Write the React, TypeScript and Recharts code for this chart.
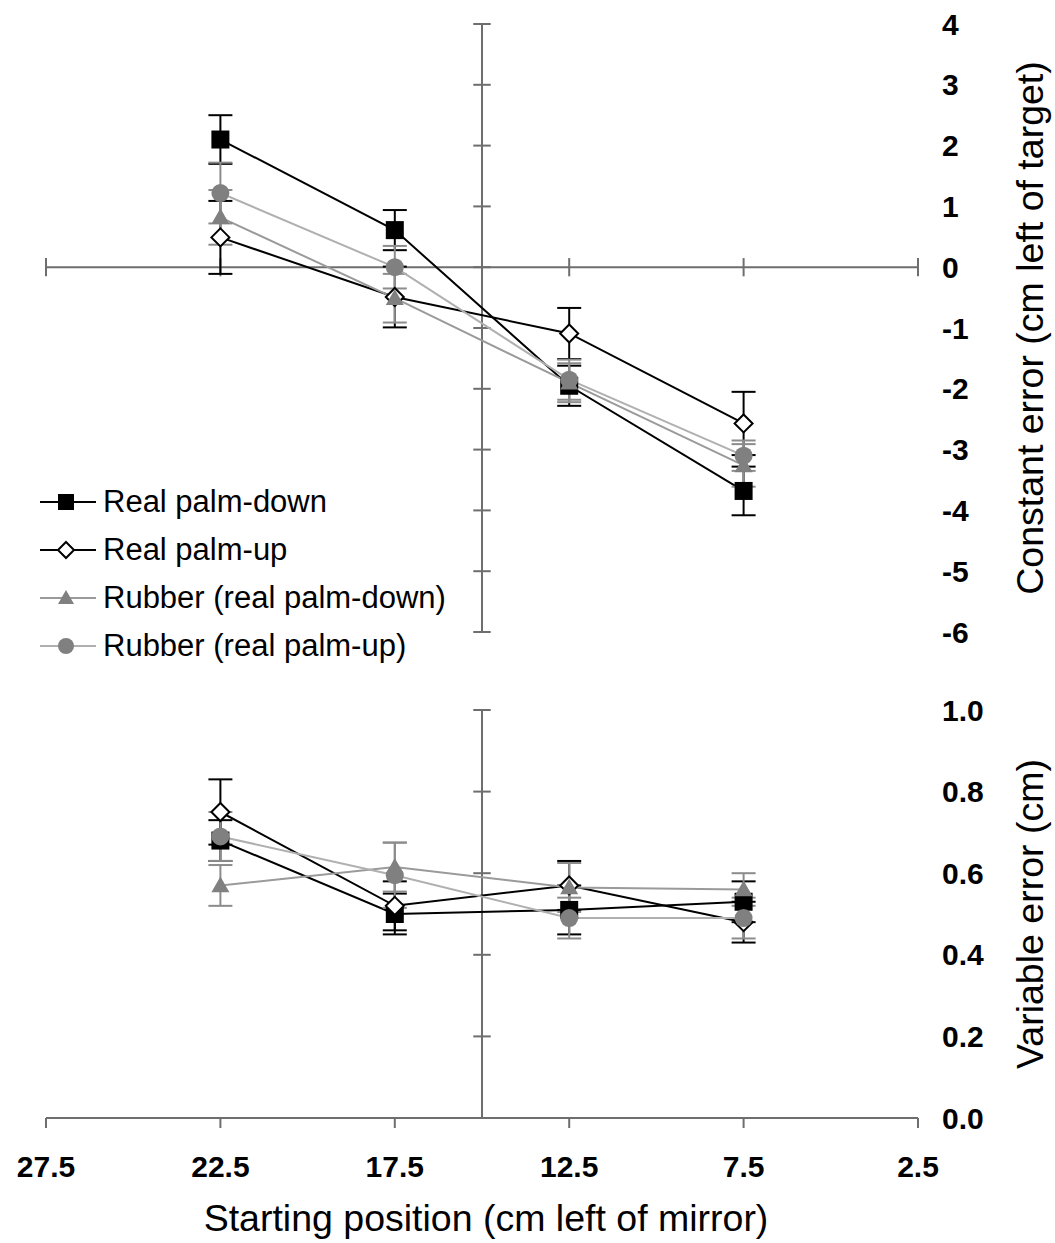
import React from 'react';
import { LineChart, Line, XAxis, YAxis, ErrorBar, ReferenceLine, Legend } from 'recharts';

// starting positions (cm left of mirror)
const positions = [22.5, 17.5, 12.5, 7.5];
const xTicks = [27.5, 22.5, 17.5, 12.5, 7.5, 2.5];
const ceTicks = [-6, -5, -4, -3, -2, -1, 0, 1, 2, 3, 4];
const veTicks = [0, 0.2, 0.4, 0.6, 0.8, 1.0];

// constant error (cm left of target) and SE
const realDownCE = [2.1, 0.61, -1.95, -3.68];
const realDownCESE = [0.4, 0.33, 0.33, 0.4];
const realUpCE = [0.49, -0.49, -1.09, -2.57];
const realUpCESE = [0.6, 0.5, 0.42, 0.52];
const rubberDownCE = [0.82, -0.51, -1.9, -3.26];
const rubberDownCESE = [0.45, 0.4, 0.32, 0.35];
const rubberUpCE = [1.22, 0.0, -1.85, -3.1];
const rubberUpCESE = [0.5, 0.35, 0.33, 0.25];

// variable error (cm) and SE
const realDownVE = [0.68, 0.5, 0.51, 0.53];
const realDownVESE = [0.05, 0.05, 0.06, 0.05];
const realUpVE = [0.75, 0.52, 0.57, 0.48];
const realUpVESE = [0.08, 0.06, 0.06, 0.05];
const rubberDownVE = [0.57, 0.615, 0.565, 0.56];
const rubberDownVESE = [0.05, 0.06, 0.06, 0.04];
const rubberUpVE = [0.69, 0.595, 0.49, 0.49];
const rubberUpVESE = [0.06, 0.08, 0.05, 0.05];

const FONT = 'Arial, "Liberation Sans", sans-serif';
const AXIS = '#6e6e6e';

type Shape = 'square' | 'diamond' | 'triangle' | 'circle';

const series: { key: string; name: string; line: string; marker: string; shape: Shape }[] = [
    { key: 'rd', name: 'Real palm-down', line: '#000000', marker: '#000000', shape: 'square' },
    { key: 'ru', name: 'Real palm-up', line: '#000000', marker: '#000000', shape: 'diamond' },
    { key: 'bd', name: 'Rubber (real palm-down)', line: '#9a9a9a', marker: '#808080', shape: 'triangle' },
    { key: 'bu', name: 'Rubber (real palm-up)', line: '#b0b0b0', marker: '#808080', shape: 'circle' },
];

const ceRows = positions.map((pos, i) => ({
    pos,
    rd: realDownCE[i], rdErr: realDownCESE[i],
    ru: realUpCE[i], ruErr: realUpCESE[i],
    bd: rubberDownCE[i], bdErr: rubberDownCESE[i],
    bu: rubberUpCE[i], buErr: rubberUpCESE[i],
}));

const veRows = positions.map((pos, i) => ({
    pos,
    rd: realDownVE[i], rdErr: realDownVESE[i],
    ru: realUpVE[i], ruErr: realUpVESE[i],
    bd: rubberDownVE[i], bdErr: rubberDownVESE[i],
    bu: rubberUpVE[i], buErr: rubberUpVESE[i],
}));

const marker = (shape: Shape, cx: number, cy: number, color: string, k?: string, s = 9) => {
    if (shape === 'square') {
        return <rect key={k} x={cx - s} y={cy - s} width={s * 2} height={s * 2} fill={color} />;
    }
    if (shape === 'diamond') {
        return (
            <polygon key={k} points={`${cx},${cy - s} ${cx + s},${cy} ${cx},${cy + s} ${cx - s},${cy}`}
                fill="#fff" stroke={color} strokeWidth={2} />
        );
    }
    if (shape === 'triangle') {
        return <polygon key={k} points={`${cx},${cy - s} ${cx + s},${cy + s * 0.75} ${cx - s},${cy + s * 0.75}`} fill={color} />;
    }
    return <circle key={k} cx={cx} cy={cy} r={s} fill={color} />;
};

const makeDot = (shape: Shape, color: string) => (props: any) =>
    marker(shape, props.cx, props.cy, color, `${shape}-${props.index}`);

const LegendBox = () => (
    <div style={{ fontFamily: FONT, fontSize: 31, color: '#000' }}>
        {series.map((s) => (
            <div key={s.key} style={{ display: 'flex', alignItems: 'center', height: 48 }}>
                <svg width={62} height={30} style={{ marginRight: 3 }}>
                    <line x1={2} y1={15} x2={58} y2={15} stroke={s.line} strokeWidth={2} />
                    {marker(s.shape, 28, 15, s.marker, undefined, 8)}
                </svg>
                <span>{s.name}</span>
            </div>
        ))}
    </div>
);

const yTitle = (text: string) => (props: any) => {
    const { x, y, height } = props.viewBox;
    const cx = x + 112;
    const cy = y + height / 2;
    return (
        <text x={cx} y={cy} transform={`rotate(-90 ${cx} ${cy})`} textAnchor="middle" dominantBaseline="central"
            fontFamily={FONT} fontSize={37.5} fill="#000">
            {text}
        </text>
    );
};

const xTitle = (props: any) => {
    const { x, y, width } = props.viewBox;
    return (
        <text x={x + width / 2 + 4} y={y + 113} textAnchor="middle" fontFamily={FONT} fontSize={37.5} fill="#000">
            Starting position (cm left of mirror)
        </text>
    );
};

const tickStyle = { fontFamily: FONT, fontSize: 30, fontWeight: 'bold', fill: '#000' } as const;

const renderLines = () =>
    series.map((s) => (
        <Line key={s.key} type="linear" dataKey={s.key} name={s.name} stroke={s.line} strokeWidth={2}
            dot={makeDot(s.shape, s.marker)} activeDot={false} isAnimationActive={false}>
            <ErrorBar dataKey={`${s.key}Err`} direction="y" width={12} stroke={s.line === '#000000' ? '#000' : '#8c8c8c'} strokeWidth={2} />
        </Line>
    ));

export default function App() {
    return (
        <div style={{ position: 'absolute', left: 0, top: 0, width: 1055, height: 1243, background: '#fff' }}>
            <div style={{ position: 'absolute', left: 0, top: 0 }}>
                <LineChart width={1055} height={680} data={ceRows} margin={{ top: 24, right: 17, bottom: 48, left: 46 }}>
                    <XAxis dataKey="pos" type="number" domain={[2.5, 27.5]} reversed ticks={xTicks} hide />
                    <YAxis orientation="right" type="number" domain={[-6, 4]} ticks={ceTicks} width={120}
                        axisLine={false} tickLine={false} tickSize={6} tickMargin={18} tick={tickStyle}
                        label={{ content: yTitle('Constant error (cm left of target)') }} />
                    <ReferenceLine y={0} stroke={AXIS} strokeWidth={2} />
                    <ReferenceLine x={15} stroke={AXIS} strokeWidth={2} />
                    {xTicks.map((t) => (
                        <ReferenceLine key={`hx${t}`} segment={[{ x: t, y: -0.15 }, { x: t, y: 0.15 }]} stroke={AXIS} strokeWidth={2} />
                    ))}
                    {ceTicks.map((t) => (
                        <ReferenceLine key={`vy${t}`} segment={[{ x: 15.25, y: t }, { x: 14.75, y: t }]} stroke={AXIS} strokeWidth={2} />
                    ))}
                    {renderLines()}
                    <Legend layout="vertical" align="center" verticalAlign="middle" content={<LegendBox />}
                        wrapperStyle={{ position: 'absolute', left: 38, top: 478, width: 'auto' }} />
                </LineChart>
            </div>
            <div style={{ position: 'absolute', left: 0, top: 680 }}>
                <LineChart width={1055} height={563} data={veRows} margin={{ top: 30, right: 17, bottom: 20, left: 46 }}>
                    <XAxis dataKey="pos" type="number" domain={[2.5, 27.5]} reversed ticks={xTicks} height={105}
                        tickFormatter={(v: number) => v.toFixed(1)} stroke={AXIS} strokeWidth={2} tickSize={10} tickMargin={28}
                        tick={tickStyle} label={{ content: xTitle }} />
                    <YAxis orientation="right" type="number" domain={[0, 1]} ticks={veTicks} width={120}
                        tickFormatter={(v: number) => v.toFixed(1)}
                        axisLine={false} tickLine={false} tickSize={6} tickMargin={18} tick={tickStyle}
                        label={{ content: yTitle('Variable error (cm)') }} />
                    <ReferenceLine x={15} stroke={AXIS} strokeWidth={2} />
                    {veTicks.map((t) => (
                        <ReferenceLine key={`vv${t}`} segment={[{ x: 15.25, y: t }, { x: 14.75, y: t }]} stroke={AXIS} strokeWidth={2} />
                    ))}
                    {renderLines()}
                </LineChart>
            </div>
        </div>
    );
}
